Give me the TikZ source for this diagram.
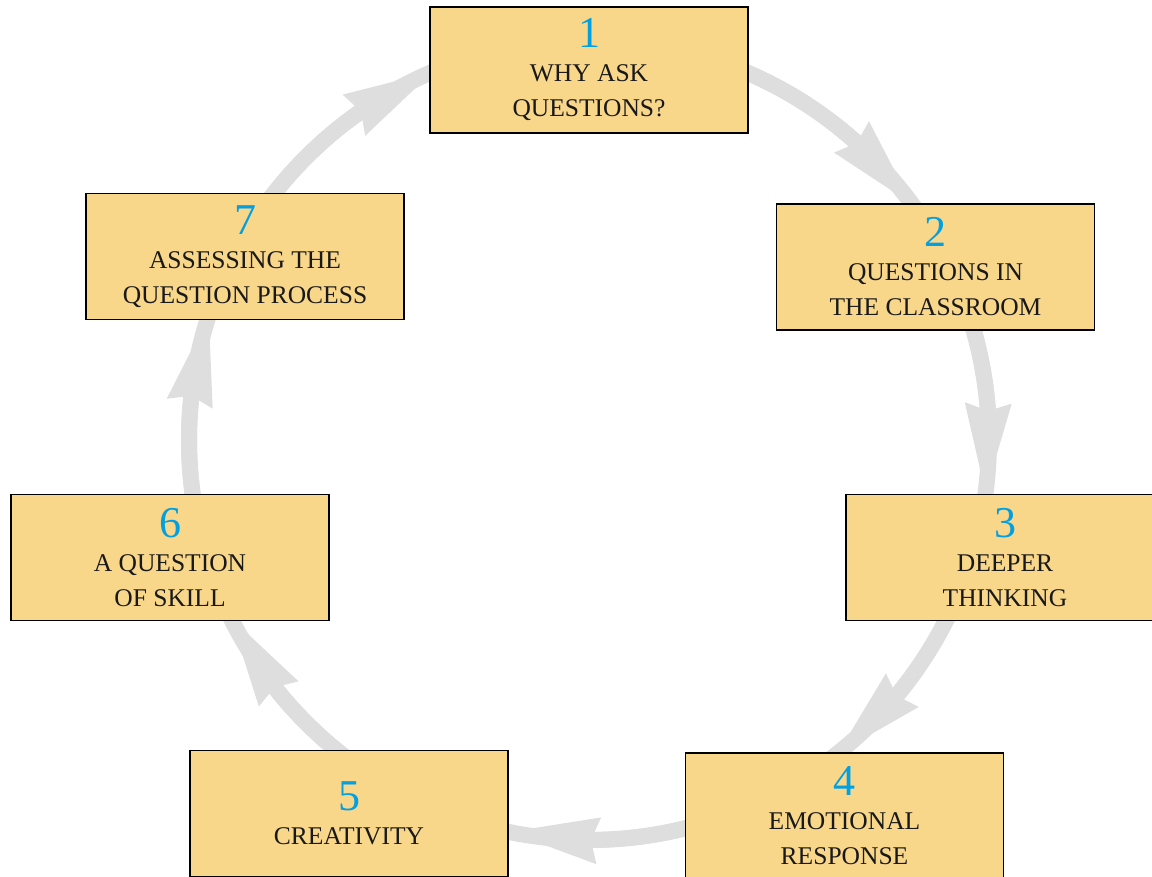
\documentclass[tikz,border=0pt]{standalone}
\usepackage{fontspec}
\setmainfont{Liberation Serif}
\usetikzlibrary{arrows.meta,bending}
\definecolor{boxfill}{RGB}{248,214,138}
\definecolor{numblue}{RGB}{0,160,227}
\definecolor{ringgray}{RGB}{222,222,222}
\newcommand\stagenum[1]{{\fontsize{44}{35}\selectfont\color{numblue}#1}\\[-1pt]}
\begin{document}
\begin{tikzpicture}[x=1pt,y=-1pt,
  stage/.style={draw=black, line width=1.4pt, fill=boxfill, minimum width=318pt, minimum height=126pt,
    inner sep=0pt, align=center, font=\fontsize{25.5}{35}\selectfont, text=black!90},
  ring/.style={draw=ringgray, line width=16pt},
  ringarrow/.style={draw=ringgray, line width=16pt,
    -{Stealth[length=90pt,width=47pt,inset=8pt,line width=0pt,flex]}}]
\useasboundingbox (0,0) rectangle (1152,877);
\coordinate (c) at (589,440);
\draw[ring] (c) circle[radius=400pt];
\foreach \a in {36.2,-7.6,-51.5,-101.5,-153.6,-198.1,-247}
  \draw[ringarrow] ([shift={(\a+35:400pt)}]c) arc[start angle=\a+35, end angle=\a, radius=400pt];
\node[stage] (b1) at (589,70)    {\stagenum{1}WHY ASK\\QUESTIONS?};
\node[stage] (b2) at (935.5,267) {\stagenum{2}QUESTIONS IN\\THE CLASSROOM};
\node[stage] (b3) at (1005,557.5){\stagenum{3}DEEPER\\THINKING};
\node[stage] (b4) at (844.5,816) {\stagenum{4}EMOTIONAL\\RESPONSE};
\node[stage] (b5) at (349,813.5) {\stagenum{5}CREATIVITY};
\node[stage] (b6) at (170,557.5) {\stagenum{6}A QUESTION\\OF SKILL};
\node[stage] (b7) at (245,256.5) {\stagenum{7}ASSESSING THE\\QUESTION PROCESS};
\end{tikzpicture}
\end{document}
